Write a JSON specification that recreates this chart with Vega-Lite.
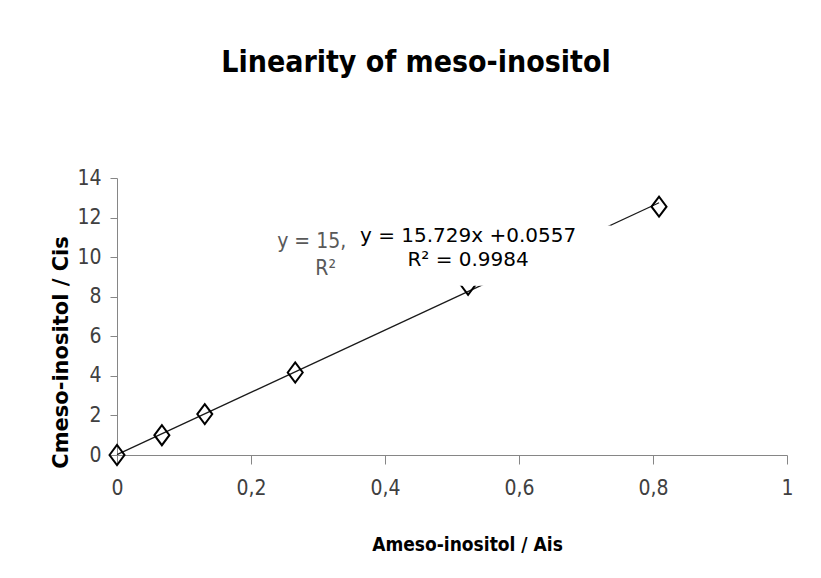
{
  "$schema": "https://vega.github.io/schema/vega-lite/v6.json",
  "width": 670,
  "height": 277,
  "autosize": {"type": "none"},
  "padding": {"left": 117, "top": 178, "right": 34, "bottom": 123},
  "background": "white",
  "title": {
    "text": "Linearity of meso-inositol",
    "font": "DejaVu Sans Condensed",
    "fontWeight": "bold",
    "fontSize": 30,
    "color": "black",
    "anchor": "middle",
    "frame": "group",
    "dx": -36,
    "baseline": "alphabetic",
    "offset": 65
  },
  "config": {
    "view": {"stroke": null},
    "axis": {
      "grid": false,
      "domainColor": "#868686",
      "tickColor": "#868686",
      "labelFont": "Liberation Sans Narrow, DejaVu Sans Condensed",
      "labelFontSize": 21,
      "labelColor": "#404040",
      "labelOverlap": false,
      "titleColor": "black"
    }
  },
  "datasets": {
    "points": [
      {"ratioA": 0, "ratioC": 0},
      {"ratioA": 0.067, "ratioC": 1.0},
      {"ratioA": 0.131, "ratioC": 2.07},
      {"ratioA": 0.266, "ratioC": 4.17},
      {"ratioA": 0.524, "ratioC": 8.6},
      {"ratioA": 0.809, "ratioC": 12.55}
    ],
    "box": [
      {"x0": 0.322, "x1": 0.737, "y0": 8.55, "y1": 11.6}
    ],
    "oldLabel": [
      {"ratioA": 0.239, "ratioC": 10.45, "label": "y = 15,"},
      {"ratioA": 0.296, "ratioC": 9.1, "label": "R²"}
    ],
    "equation": [
      {"ratioA": 0.524, "ratioC": 10.76, "label": "y = 15.729x +0.0557"},
      {"ratioA": 0.524, "ratioC": 9.55, "label": "R² = 0.9984"}
    ]
  },
  "layer": [
    {
      "data": {"name": "points"},
      "transform": [{"regression": "ratioC", "on": "ratioA"}],
      "mark": {"type": "line", "color": "#1a1a1a", "strokeWidth": 1.3},
      "encoding": {
        "x": {
          "field": "ratioA",
          "type": "quantitative",
          "scale": {"domain": [0, 1], "nice": false},
          "axis": {
            "values": [0, 0.2, 0.4, 0.6, 0.8, 1],
            "tickCount": 6,
            "labelExpr": "replace(format(datum.value, '.1~f'), '.', ',')",
            "tickSize": 9,
            "labelPadding": 13,
            "labelFlush": false,
            "title": "Ameso-inositol / Ais",
            "titleFont": "DejaVu Sans Condensed",
            "titleFontWeight": "bold",
            "titleFontSize": 19,
            "titleX": 350,
            "titleY": 95,
            "titleBaseline": "alphabetic",
            "titleAlign": "center"
          }
        },
        "y": {
          "field": "ratioC",
          "type": "quantitative",
          "scale": {"domain": [0, 14], "nice": false},
          "axis": {
            "values": [0, 2, 4, 6, 8, 10, 12, 14],
            "tickCount": 8,
            "tickSize": 7,
            "labelPadding": 9,
            "title": "Cmeso-inositol / Cis",
            "titleFont": "DejaVu Sans",
            "titleFontWeight": "bold",
            "titleFontSize": 21,
            "titleX": -50,
            "titleY": 174,
            "titleBaseline": "alphabetic",
            "titleAlign": "center"
          }
        }
      }
    },
    {
      "data": {"name": "points"},
      "mark": {
        "type": "point",
        "shape": "M-0.75,0L0,-1L0.75,0L0,1Z",
        "size": 400,
        "filled": false,
        "stroke": "black",
        "strokeWidth": 2,
        "opacity": 1
      },
      "encoding": {
        "x": {"field": "ratioA", "type": "quantitative"},
        "y": {"field": "ratioC", "type": "quantitative"}
      }
    },
    {
      "data": {"name": "box"},
      "mark": {"type": "rect", "fill": "white"},
      "encoding": {
        "x": {"field": "x0", "type": "quantitative"},
        "x2": {"field": "x1"},
        "y": {"field": "y0", "type": "quantitative"},
        "y2": {"field": "y1"}
      }
    },
    {
      "data": {"name": "oldLabel"},
      "mark": {
        "type": "text",
        "align": "left",
        "baseline": "alphabetic",
        "font": "Liberation Sans Narrow, DejaVu Sans Condensed",
        "fontSize": 21,
        "color": "#595959"
      },
      "encoding": {
        "x": {"field": "ratioA", "type": "quantitative"},
        "y": {"field": "ratioC", "type": "quantitative"},
        "text": {"field": "label"}
      }
    },
    {
      "data": {"name": "equation"},
      "mark": {
        "type": "text",
        "align": "center",
        "baseline": "alphabetic",
        "font": "DejaVu Sans",
        "fontSize": 20,
        "color": "black"
      },
      "encoding": {
        "x": {"field": "ratioA", "type": "quantitative"},
        "y": {"field": "ratioC", "type": "quantitative"},
        "text": {"field": "label"}
      }
    }
  ]
}
